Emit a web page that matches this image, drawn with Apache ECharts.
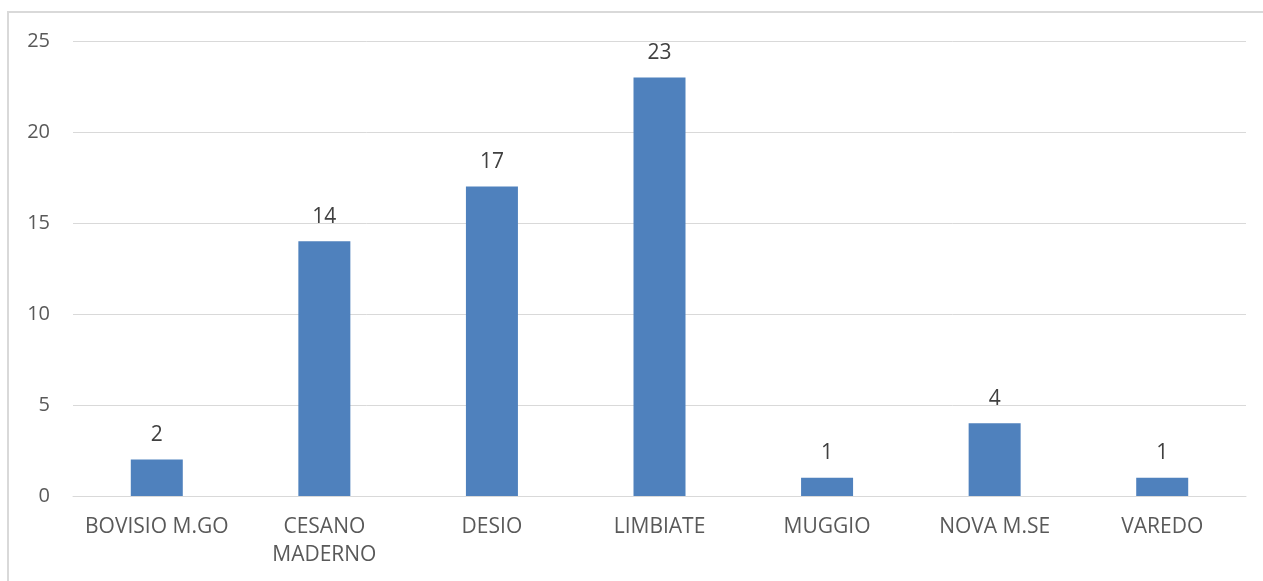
<!DOCTYPE html>
<html>
<head>
<meta charset="utf-8">
<script src="https://cdn.jsdelivr.net/npm/echarts@6/dist/echarts.min.js"></script>
<style>
html,body{margin:0;padding:0;background:#fff;}
#chart{width:1263px;height:581px;}
</style>
</head>
<body>
<div id="chart"></div>
<script>
const categories = ['BOVISIO M.GO', 'CESANO\nMADERNO', 'DESIO', 'LIMBIATE', 'MUGGIO', 'NOVA M.SE', 'VAREDO'];
const values = [2, 14, 17, 23, 1, 4, 1];
const yTicks = [0, 5, 10, 15, 20, 25];

const chart = echarts.init(document.getElementById('chart'));
chart.setOption({
  animation: false,
  backgroundColor: '#fff',
  graphic: [{
    type: 'rect',
    shape: { x: 8, y: 12, width: 1300, height: 620 },
    style: { fill: 'none', stroke: '#d9d9d9', lineWidth: 2 }
  }],
  grid: { left: 73, right: 17, top: 41, bottom: 85, containLabel: false },
  xAxis: {
    type: 'category',
    data: categories,
    axisLine: { show: true, lineStyle: { color: '#d9d9d9', width: 1 } },
    axisTick: { show: false },
    axisLabel: { color: '#595959', fontSize: 21, fontFamily: 'Open Sans', margin: 17, lineHeight: 28, interval: 0 }
  },
  yAxis: {
    type: 'value',
    min: yTicks[0],
    max: yTicks[yTicks.length - 1],
    interval: 5,
    axisLine: { show: false },
    axisTick: { show: false },
    splitLine: { lineStyle: { color: '#d9d9d9', width: 1 } },
    axisLabel: { color: '#595959', fontSize: 20, fontFamily: 'Open Sans', margin: 23 }
  },
  series: [{
    type: 'bar',
    data: values,
    barWidth: 52,
    itemStyle: { color: '#4F81BD' },
    label: { show: true, position: 'top', distance: 14, color: '#404040', fontSize: 21, fontFamily: 'Open Sans' }
  }]
});
</script>
</body>
</html>
